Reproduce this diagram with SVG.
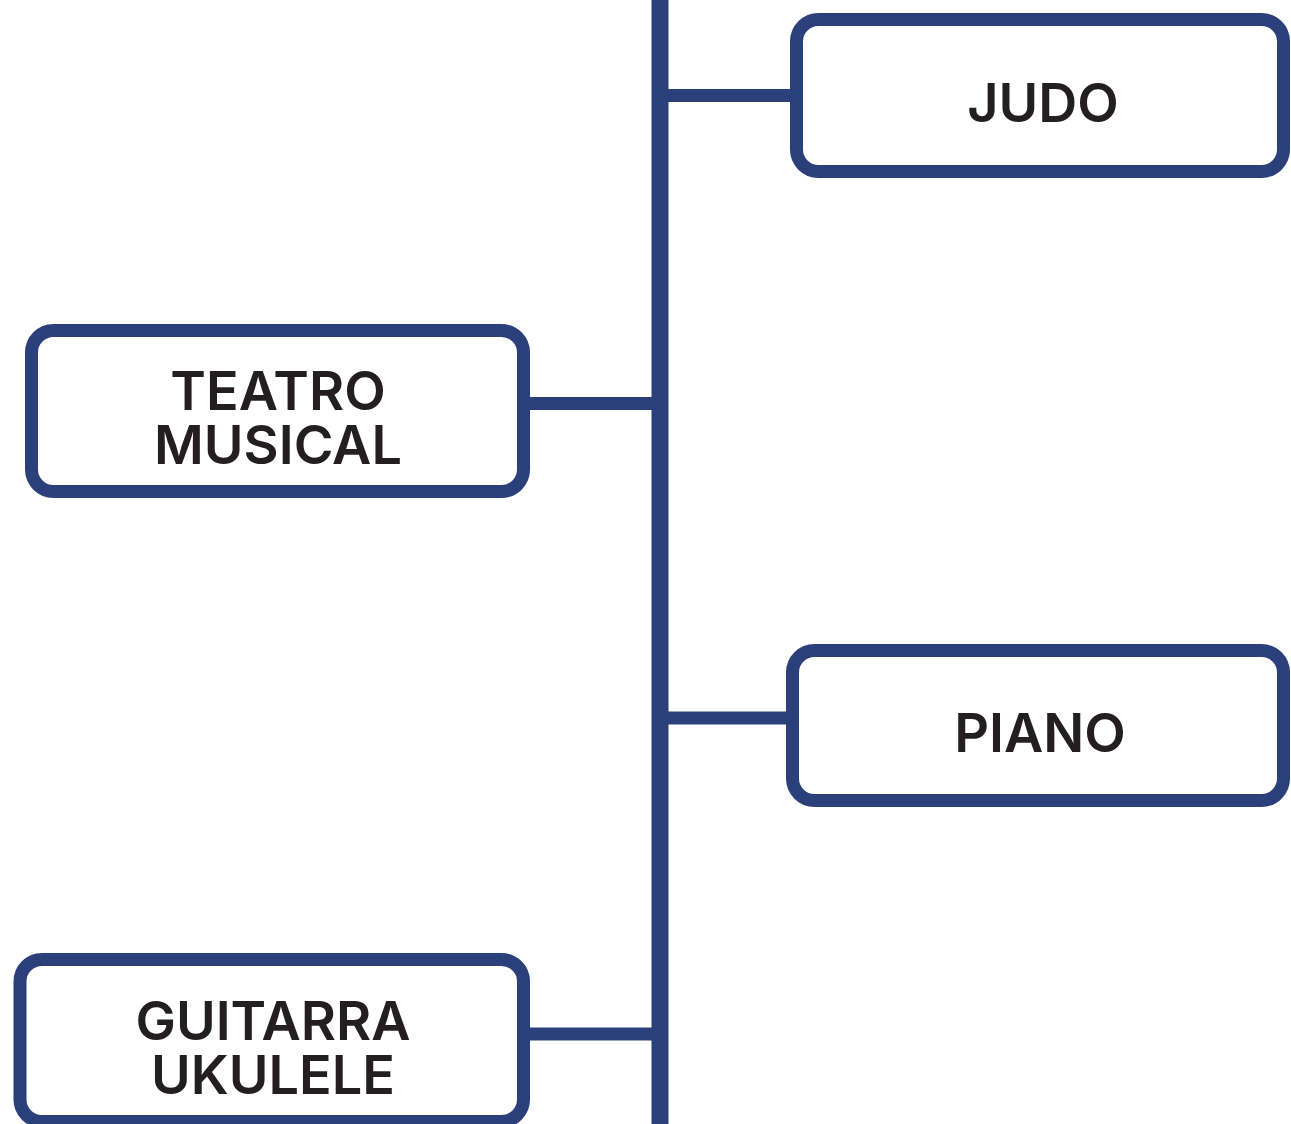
<svg xmlns="http://www.w3.org/2000/svg" width="1291" height="1124" viewBox="0 0 1291 1124">
<style>
.box{fill:#ffffff;stroke:#2b407b;stroke-width:13}
.ln{stroke:#2b407b;fill:none}
.t{font-family:Inter,"Liberation Sans",sans-serif;font-weight:600;font-size:54px;fill:#231f20;text-anchor:middle}
</style>
<rect width="1291" height="1124" fill="#ffffff"/>
<g id="connectors">
<line class="ln" x1="660" y1="0" x2="660" y2="1124" stroke-width="17"/>
<line class="ln" x1="660" y1="95.5" x2="797" y2="95.5" stroke-width="13"/>
<line class="ln" x1="530" y1="403.5" x2="660" y2="403.5" stroke-width="13"/>
<line class="ln" x1="660" y1="718" x2="793" y2="718" stroke-width="13"/>
<line class="ln" x1="530" y1="1034" x2="660" y2="1034" stroke-width="13"/>
</g>
<g id="judo">
<rect class="box" x="796.5" y="19.5" width="487" height="152" rx="22"/>
<text class="t" x="1043" y="122">JUDO</text>
</g>
<g id="teatro">
<rect class="box" x="31.5" y="330.5" width="492" height="161" rx="22"/>
<text class="t" x="278" y="410">TEATRO</text>
<text class="t" x="278" y="464">MUSICAL</text>
</g>
<g id="piano">
<rect class="box" x="792.5" y="650.5" width="491" height="150" rx="22"/>
<text class="t" x="1040" y="752">PIANO</text>
</g>
<g id="guitarra">
<rect class="box" x="20" y="959.5" width="503.5" height="162" rx="22"/>
<text class="t" x="273" y="1040">GUITARRA</text>
<text class="t" x="273" y="1094">UKULELE</text>
</g>
</svg>
